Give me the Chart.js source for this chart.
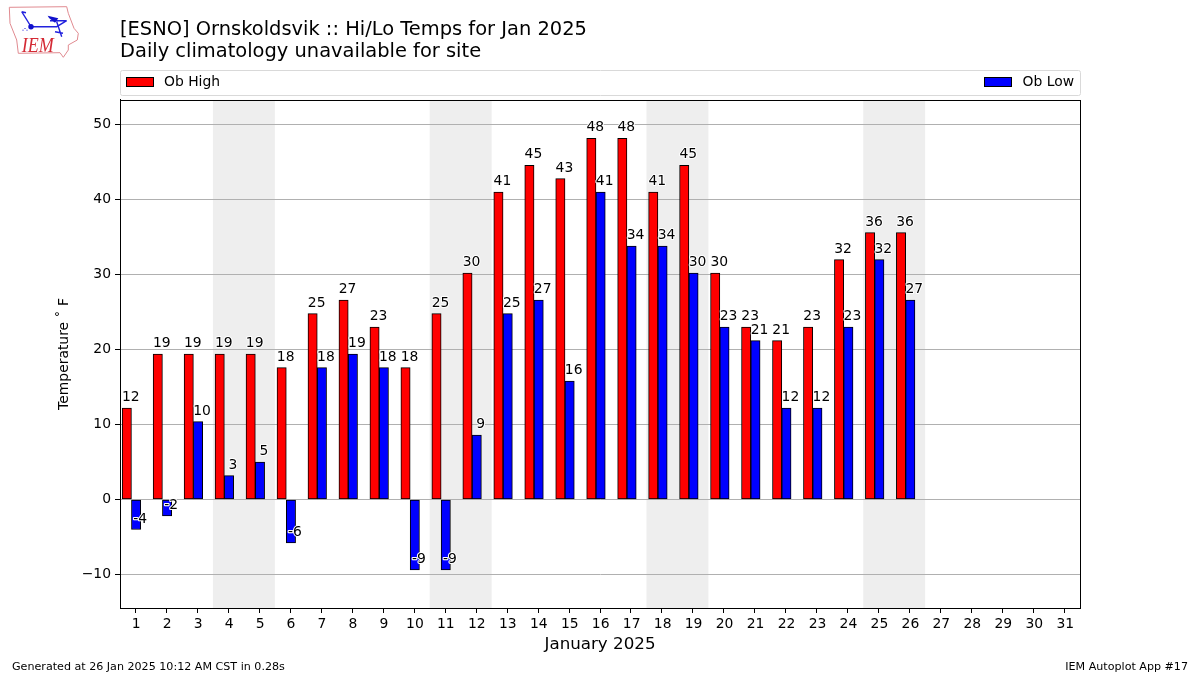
<!DOCTYPE html>
<html>
<head>
<meta charset="utf-8">
<title>Hi/Lo Temps</title>
<script src="https://cdn.jsdelivr.net/npm/chart.js@4"></script>
<style>
    body { margin: 0; background: #fff; }
    #graphique { display: block; }
    #logo { position: absolute; left: 8px; top: 5px; }
</style>
</head>
<body>
<canvas id="graphique" width="1200" height="675"></canvas>
<svg id="logo" width="72" height="54" viewBox="0 0 72 54">
    <path d="M1.3 2.3 L58.7 1.7 L60.3 8.3 L66 23.3 L70.3 28.3 L69.3 35 L60.3 40 L60.3 45 L55.3 52.3 L52 47.7 L10.3 48.3 L8.7 35 L2 18.3 Z" fill="none" stroke="#e08a90" stroke-width="1"/>
    <path d="M23 21.7 L48.7 21.7 L58.7 15.7 M13.7 6.7 L22 20 M13.7 6.7 L18 7.7 M42 15.7 L58.7 15.7 M48.7 16.7 L53.7 31.7 M47 26.7 L55 28.3" fill="none" stroke="#2222dd" stroke-width="1.4"/>
    <path d="M39.7 10.7 L50.3 13.3 L47 17.7 L41 13 Z" fill="#1111cc"/>
    <circle cx="23" cy="21.7" r="2.7" fill="#1111cc"/>
    <path d="M17 23 L17 23.8 M15 24.7 L15 25.5 M19 24.7 L19 25.5" fill="none" stroke="#2222dd" stroke-width="1.4"/>
    <text x="13.7" y="46.7" font-family="Liberation Serif" font-style="italic" font-size="20" textLength="32" lengthAdjust="spacingAndGlyphs" fill="#d42a35">IEM</text>
</svg>
<script>
const jours = [1, 2, 3, 4, 5, 6, 7, 8, 9, 10, 11, 12, 13, 14, 15, 16, 17, 18, 19, 20, 21, 22, 23, 24, 25, 26];
const data_high = [12.2, 19.4, 19.4, 19.4, 19.4, 17.6, 24.8, 26.6, 23, 17.6, 24.8, 30.2, 41, 44.6, 42.8, 48.2, 48.2, 41, 44.6, 30.2, 23, 21.2, 23, 32, 35.6, 35.6];
const data_low = [-4, -2.2, 10.4, 3.2, 5, -5.8, 17.6, 19.4, 17.6, -9.4, -9.4, 8.6, 24.8, 26.6, 15.8, 41, 33.8, 33.8, 30.2, 23, 21.2, 12.2, 12.2, 23, 32, 26.6];
const ticks_x = [1, 2, 3, 4, 5, 6, 7, 8, 9, 10, 11, 12, 13, 14, 15, 16, 17, 18, 19, 20, 21, 22, 23, 24, 25, 26, 27, 28, 29, 30, 31];
const ticks_y = [-10, 0, 10, 20, 30, 40, 50];
const weekends = [[4, 5], [11, 12], [18, 19], [25, 26]];

const titre = ['[ESNO] Ornskoldsvik :: Hi/Lo Temps for Jan 2025', 'Daily climatology unavailable for site'];
const pied_gauche = 'Generated at 26 Jan 2025 10:12 AM CST in 0.28s';
const pied_droite = 'IEM Autoplot App #17';

const police = '"DejaVu Sans"';
const decalage_rouge = 0.28;
const decalage_bleu = 0.02;
const decalage_texte = 0.15;

// bandes grises des week-ends, sous la grille
const pluginWeekends = {
    id: 'weekends',
    beforeDraw(chart) {
        const { ctx, chartArea, scales } = chart;
        ctx.save();
        ctx.fillStyle = '#eeeeee';
        weekends.forEach(function (w) {
            const x1 = scales.x.getPixelForValue(w[0] - 0.5);
            const x2 = scales.x.getPixelForValue(w[1] + 0.5);
            ctx.fillRect(x1, chartArea.top, x2 - x1, chartArea.bottom - chartArea.top);
        });
        ctx.restore();
    }
};

// valeurs au dessus des barres, cadre, legende et pied de page
const pluginTextes = {
    id: 'textes',
    afterDatasetsDraw(chart) {
        const { ctx, scales } = chart;
        ctx.save();
        ctx.font = '13.9px ' + police;
        ctx.textAlign = 'center';
        ctx.textBaseline = 'alphabetic';
        ctx.lineJoin = 'round';
        function etiquette(x, valeur) {
            const px = scales.x.getPixelForValue(x);
            const py = scales.y.getPixelForValue(valeur + 0.9);
            const texte = String(Math.round(valeur));
            ctx.strokeStyle = '#ffffff';
            ctx.lineWidth = 2;
            ctx.strokeText(texte, px, py);
            ctx.fillStyle = '#000000';
            ctx.fillText(texte, px, py);
        }
        jours.forEach(function (j, i) {
            etiquette(j - decalage_texte, data_high[i]);
            etiquette(j + decalage_texte, data_low[i]);
        });
        ctx.restore();
    },
    afterDraw(chart) {
        const { ctx, chartArea } = chart;
        ctx.save();
        ctx.strokeStyle = '#000000';
        ctx.lineWidth = 1;
        ctx.strokeRect(chartArea.left + 0.5, chartArea.top + 0.5, chartArea.right - chartArea.left, chartArea.bottom - chartArea.top);

        // legende en mode expand
        ctx.strokeStyle = '#d9d9d9';
        ctx.beginPath();
        ctx.roundRect(120.5, 70.5, 960, 25, 2);
        ctx.stroke();
        const high = chart.data.datasets[0];
        const low = chart.data.datasets[1];
        ctx.fillStyle = high.backgroundColor;
        ctx.strokeStyle = '#000000';
        ctx.fillRect(127, 77, 27, 9);
        ctx.strokeRect(126.5, 77.5, 27, 9);
        ctx.fillStyle = low.backgroundColor;
        ctx.fillRect(985, 77, 27, 9);
        ctx.strokeRect(984.5, 77.5, 27, 9);
        ctx.fillStyle = '#000000';
        ctx.font = '13.9px ' + police;
        ctx.textBaseline = 'alphabetic';
        ctx.textAlign = 'left';
        ctx.fillText(high.label, 164, 86);
        ctx.textAlign = 'right';
        ctx.fillText(low.label, 1074, 86);

        ctx.font = '11.11px ' + police;
        ctx.textAlign = 'left';
        ctx.fillText(pied_gauche, 12, 670);
        ctx.textAlign = 'right';
        ctx.fillText(pied_droite, 1188, 670);
        ctx.restore();
    }
};

new Chart(document.getElementById('graphique').getContext('2d'), {
    type: 'bar',
    data: {
        datasets: [{
            label: 'Ob High',
            backgroundColor: '#ff0000',
            borderColor: '#000000',
            borderWidth: 1,
            borderSkipped: false,
            grouped: false,
            barPercentage: 1,
            categoryPercentage: 1,
            order: 2,
            data: jours.map(function (j, i) { return { x: j - decalage_rouge, y: data_high[i] }; })
        }, {
            label: 'Ob Low',
            backgroundColor: '#0000ff',
            borderColor: '#000000',
            borderWidth: 1,
            borderSkipped: false,
            grouped: false,
            barPercentage: 1,
            categoryPercentage: 1,
            order: 1,
            data: jours.map(function (j, i) { return { x: j + decalage_bleu, y: data_low[i] }; })
        }]
    },
    plugins: [pluginWeekends, pluginTextes],
    options: {
        responsive: false,
        animation: false,
        layout: { padding: { right: 120 } },
        plugins: {
            legend: { display: false },
            tooltip: { enabled: false },
            title: {
                display: true,
                text: titre,
                align: 'start',
                fullSize: false,
                color: '#000000',
                font: { family: police, size: 19.45, weight: 'normal', lineHeight: 1.14 },
                padding: { top: 19, bottom: 36.65 }
            }
        },
        scales: {
            x: {
                type: 'linear',
                offset: false,
                min: 0.5,
                max: 31.5,
                afterBuildTicks(scale) { scale.ticks = ticks_x.map(function (v) { return { value: v }; }); },
                afterFit(scale) { scale.height = 67; },
                grid: { offset: false, drawOnChartArea: false, drawTicks: true, tickColor: '#000000', tickLength: 5 },
                border: { color: '#000000' },
                ticks: {
                    color: '#000000',
                    font: { family: police, size: 13.9 },
                    autoSkip: false,
                    maxRotation: 0,
                    padding: 3,
                    labelOffset: 0.7,
                    callback: function (v) { return String(v); }
                },
                title: {
                    display: true,
                    text: 'January 2025',
                    color: '#000000',
                    font: { family: police, size: 16.7 },
                    padding: { top: 0, bottom: 20 }
                }
            },
            y: {
                min: -14.47,
                max: 53.3,
                afterBuildTicks(scale) { scale.ticks = ticks_y.map(function (v) { return { value: v }; }); },
                afterFit(scale) { scale.width = 120; },
                grid: { color: '#b0b0b0', lineWidth: 1, tickColor: '#000000', tickLength: 5 },
                border: { color: '#000000' },
                ticks: {
                    color: '#000000',
                    font: { family: police, size: 13.9 },
                    padding: 4,
                    callback: function (v) { return String(v).replace('-', '\u2212'); }
                },
                title: {
                    display: true,
                    text: 'Temperature \u02DA F',
                    color: '#000000',
                    font: { family: police, size: 13.9 },
                    padding: { top: 56, bottom: 0 }
                }
            }
        }
    }
});
</script>
</body>
</html>
